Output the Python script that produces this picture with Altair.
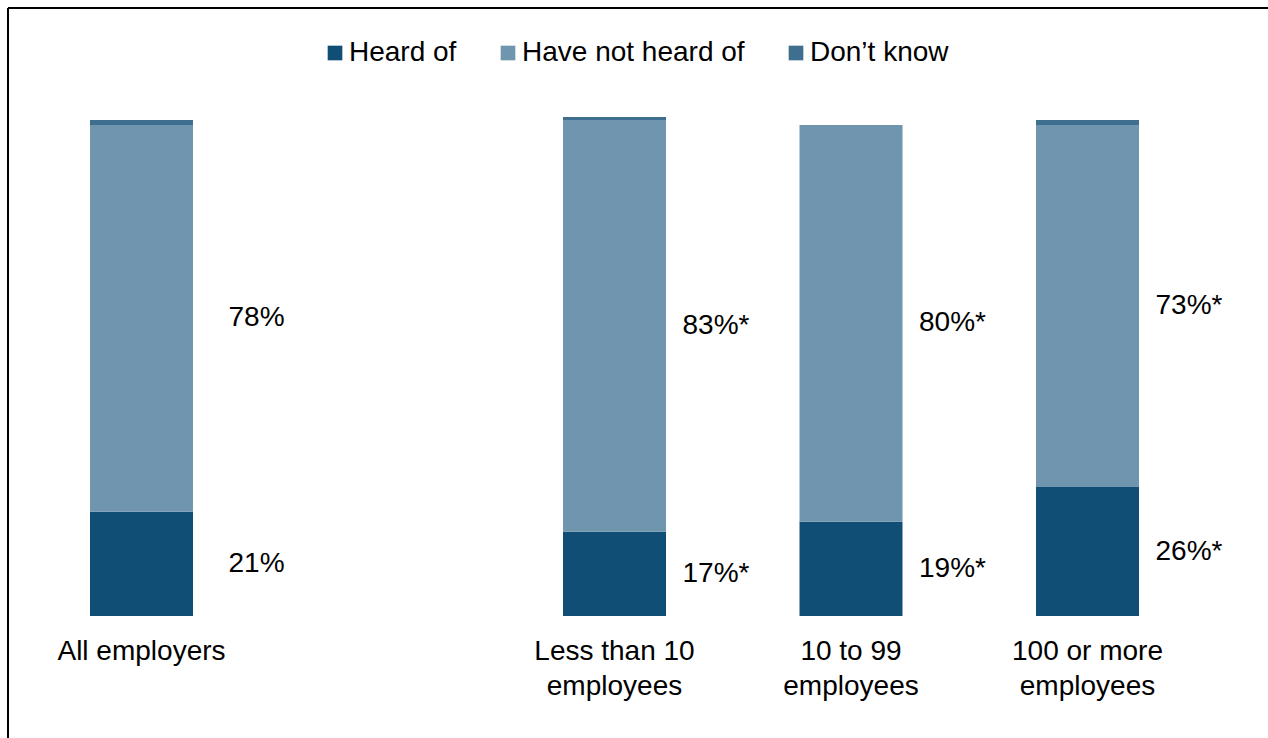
import altair as alt
import pandas as pd

# ---- data ----
categories = ["All employers", " ", "Less than 10|employees", "10 to 99|employees", "100 or more|employees"]
groups = ["All employers", "Less than 10|employees", "10 to 99|employees", "100 or more|employees"]
series = ["Heard of", "Have not heard of", "Don\u2019t know"]
heard_of = [21, 17, 19, 26]
not_heard = [78, 83, 80, 73]
dont_know = [1, 0.6, 0, 1]
heard_labels = ["21%", "17%*", "19%*", "26%*"]
not_heard_labels = ["78%", "83%*", "80%*", "73%*"]
colors = ["#104E75", "#7095AE", "#3F6F8F"]

FONT = "Liberation Sans, Arial, Helvetica, sans-serif"

rows = []
for i, g in enumerate(groups):
    vals = [heard_of[i], not_heard[i], dont_know[i]]
    labs = [heard_labels[i], not_heard_labels[i], ""]
    base = 0.0
    for j, s in enumerate(series):
        rows.append({
            "group": g, "series": s, "order": j, "value": vals[j],
            "y0": base, "y1": base + vals[j], "mid": base + vals[j] / 2,
            "label": labs[j], "first": i == 0,
        })
        base += vals[j]
df = pd.DataFrame(rows)

L, T, W, H = 20, 120, 1189, 496
R = 1268 - L - W
B = 738 - T - H

xenc = alt.X("group:N", scale=alt.Scale(domain=categories, paddingInner=0.5645, paddingOuter=0.296),
             sort=categories,
             axis=alt.Axis(title=None, domain=False, ticks=False, labelAngle=0, labelFontSize=28,
                           labelFont=FONT, labelColor="#000000", labelPadding=21, labelLineHeight=35,
                           labelLimit=400, labelExpr="split(datum.label, '|')"))
yscale = alt.Scale(domain=[0, 100], nice=False, zero=True)

bars = alt.Chart(df).mark_bar().encode(
    x=xenc,
    y=alt.Y("y0:Q", scale=yscale, axis=None),
    y2="y1:Q",
    color=alt.Color("series:N", scale=alt.Scale(domain=series, range=colors),
                    legend=alt.Legend(title=None, orient="none", legendX=301, legendY=-81,
                                      direction="horizontal", symbolType="square", symbolSize=215,
                                      symbolStrokeWidth=0, labelFontSize=28, labelFont=FONT,
                                      labelColor="#000000", columnPadding=37, labelOffset=0,
                                      padding=0, labelLimit=500)),
)

lab_df = df[df["label"] != ""]
txt_first = alt.Chart(lab_df).transform_filter("datum.first").mark_text(
    align="left", baseline="middle", fontSize=28, font=FONT, color="#000000", dx=87
).encode(x=alt.X("group:N", sort=categories), y=alt.Y("mid:Q", scale=yscale), text="label:N")

txt_rest = alt.Chart(lab_df).transform_filter("!datum.first").mark_text(
    align="left", baseline="middle", fontSize=28, font=FONT, color="#000000", dx=68
).encode(x=alt.X("group:N", sort=categories), y=alt.Y("mid:Q", scale=yscale), text="label:N")

frame_df = pd.DataFrame({"a": [0]})
frame_left = alt.Chart(frame_df).mark_rule(color="#000000", strokeWidth=2).encode(
    x=alt.value(8 - L), y=alt.value(8 - T), y2=alt.value(738 - T + 5))
frame_top = alt.Chart(frame_df).mark_rule(color="#000000", strokeWidth=2).encode(
    y=alt.value(8 - T), x=alt.value(8 - L), x2=alt.value(1268 - L + 5))

chart = alt.layer(bars, txt_first, txt_rest, frame_left, frame_top).properties(
    width=W, height=H,
    autosize=alt.AutoSizeParams(type="none"),
    padding={"left": L, "top": T, "right": R, "bottom": B},
    background="#ffffff",
).configure_view(stroke=None)

chart.save("out.html", embed_options={"renderer": "svg", "actions": False})
